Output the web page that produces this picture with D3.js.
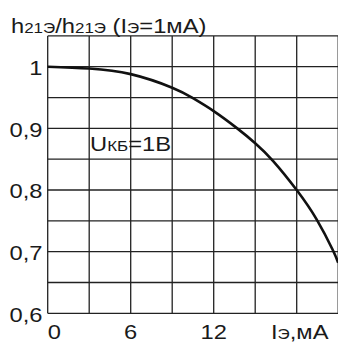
<!DOCTYPE html>
<html>
<head>
<meta charset="utf-8">
<script src="https://cdn.jsdelivr.net/npm/d3@7"></script>
<style>
  html, body { margin: 0; padding: 0; background: #fff; }
  svg { display: block; }
</style>
</head>
<body>
<div id="chart"></div>
<script>
// curve: emitter current (mA) vs relative h21E
const currentMA = [0, 3, 6, 9, 10.5, 12, 13.7, 15, 16.3, 18, 19.45, 20.6, 21];
const gainRatio = [1, 0.997, 0.988, 0.966, 0.949, 0.928, 0.9, 0.876, 0.847, 0.8, 0.752, 0.703, 0.682];

const xGrid = [0, 3, 6, 9, 12, 15, 18, 21];
const yGrid = [0.6, 0.65, 0.7, 0.75, 0.8, 0.85, 0.9, 0.95, 1, 1.05];
const xTickValues = [0, 6, 12];
const xTickLabels = ['0', '6', '12'];
const yTickValues = [1, 0.9, 0.8, 0.7, 0.6];
const yTickLabels = ['1', '0,9', '0,8', '0,7', '0,6'];

const W = 338, H = 343;
const FONT = "'Liberation Sans', Arial, Helvetica, sans-serif";
const stretch = 1.13; // the source lettering is a little wider than Arial

const svg = d3.select('#chart').append('svg')
  .attr('width', W)
  .attr('height', H)
  .attr('font-family', FONT);

const x = d3.scaleLinear().domain([0, 21]).range([47.7, 338.2]);
const y = d3.scaleLinear().domain([0.6, 1.05]).range([313.3, 35.9]);

// grid
const grid = svg.append('g')
  .attr('stroke', '#222')
  .attr('stroke-width', 1.3);

grid.selectAll('line.v')
  .data(xGrid)
  .enter().append('line')
  .attr('class', 'v')
  .attr('x1', d => x(d)).attr('x2', d => x(d))
  .attr('y1', y(0.6)).attr('y2', y(1.05));

grid.selectAll('line.h')
  .data(yGrid)
  .enter().append('line')
  .attr('class', 'h')
  .attr('x1', x(0)).attr('x2', x(21))
  .attr('y1', d => y(d)).attr('y2', d => y(d));

// curve
const line = d3.line()
  .x((d, i) => x(currentMA[i]))
  .y(d => y(d))
  .curve(d3.curveNatural);

svg.append('path')
  .datum(gainRatio)
  .attr('fill', 'none')
  .attr('stroke', '#111')
  .attr('stroke-width', 2.6)
  .attr('d', line);

// y tick labels
svg.append('g')
  .selectAll('text')
  .data(yTickValues)
  .enter().append('text')
  .attr('transform', d => `translate(42.5,${y(d) + 8.3}) scale(${stretch},1)`)
  .attr('text-anchor', 'end')
  .attr('font-size', 21)
  .attr('fill', '#1a1a1a')
  .text((d, i) => yTickLabels[i]);

// x tick labels (the 0 sits right of its line, clear of the y labels)
svg.append('g')
  .selectAll('text')
  .data(xTickValues)
  .enter().append('text')
  .attr('transform', d => `translate(${x(d)},339) scale(${stretch},1)`)
  .attr('text-anchor', d => d === 0 ? 'start' : 'middle')
  .attr('font-size', 21)
  .attr('fill', '#1a1a1a')
  .text((d, i) => xTickLabels[i]);

// text with small sub-parts
function richText(tx, ty, parts) {
  const t = svg.append('text')
    .attr('transform', `translate(${tx},${ty}) scale(${stretch},1)`)
    .attr('fill', '#1a1a1a');
  parts.forEach(p => {
    t.append('tspan')
      .attr('font-size', p[1] ? 15 : 21)
      .text(p[0]);
  });
  return t;
}

// axis titles
richText(11, 33, [['h', 0], ['21Э', 1], ['/h', 0], ['21Э', 1], [' (I', 0], ['Э', 1], ['=1мА)', 0]]);
richText(271, 339, [['I', 0], ['Э', 1], [',мА', 0]]);

// annotation
richText(90, 151, [['U', 0], ['КБ', 1], ['=1В', 0]]);
</script>
</body>
</html>
